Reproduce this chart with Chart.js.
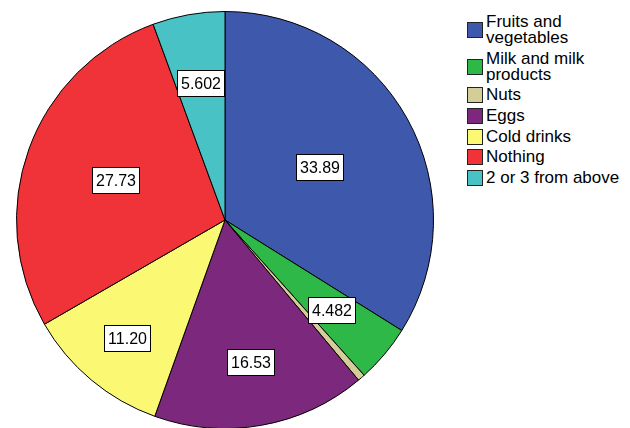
<!DOCTYPE html>
<html>
<head>
<meta charset="utf-8">
<script src="https://cdn.jsdelivr.net/npm/chart.js@4.4.1/dist/chart.umd.min.js"></script>
<style>
    html, body { margin: 0; padding: 0; background: #fff; overflow: hidden; }
    #wrap { position: relative; width: 630px; height: 428px; overflow: hidden; }
    #pie { position: absolute; left: 0; top: 0; }
    #legend {
        position: absolute; left: 467px; top: 14px;
        font-family: "Liberation Sans", Arial, sans-serif; font-size: 17px; color: #000;
    }
    .item { display: flex; align-items: center; margin-bottom: 4.7px; }
    .swatch { width: 14px; height: 14px; border: 1px solid #222; flex: none; margin-right: 3px; }
    .txt { line-height: 16px; max-width: 140px; }
</style>
</head>
<body>
<div id="wrap">
    <canvas id="pie" width="450" height="440"></canvas>
    <div id="legend"></div>
</div>
<script>
"use strict";

// categories and their percentages, clockwise from 12 o'clock
const categories = ["Fruits and vegetables", "Milk and milk products", "Nuts", "Eggs",
                    "Cold drinks", "Nothing", "2 or 3 from above"];
const percents = [33.89, 4.482, 0.566, 16.53, 11.20, 27.73, 5.602];

const slice_colours = ["#3e58ac", "#2eb848", "#d3ce97", "#7c287d", "#fbf873", "#ef3338", "#48c2c5"];
// which slices get a value box, and how far out (fraction of radius) it sits
const show_label = [true, true, false, true, true, true, true];
const label_radius = [0.52, 0.667, 0, 0.69, 0.734, 0.56, 0.667];

/*
    white boxed value labels on the slices
*/
const value_box_plugin = {
    id: "value_boxes",
    afterDatasetsDraw(chart, args, opts) {
        const ctx = chart.ctx;
        const meta = chart.getDatasetMeta(0);
        const values = chart.data.datasets[0].data;
        ctx.save();
        ctx.font = opts.font;
        ctx.textAlign = "center";
        ctx.textBaseline = "middle";
        meta.data.forEach((arc, i) => {
            if (!opts.show[i]) return;
            const p = arc.getProps(["x", "y", "startAngle", "endAngle", "outerRadius"], true);
            const mid = (p.startAngle + p.endAngle) / 2;
            const r = p.outerRadius * opts.radius[i];
            const cx = p.x + Math.cos(mid) * r;
            const cy = p.y + Math.sin(mid) * r;
            const text = values[i].toPrecision(4);
            const w = Math.round(ctx.measureText(text).width + 7);
            const h = 26;
            const left = Math.round(cx - w / 2) + 0.5;
            const top = Math.round(cy - h / 2) + 0.5;
            ctx.fillStyle = "#fff";
            ctx.fillRect(left, top, w, h);
            ctx.strokeStyle = "#000";
            ctx.lineWidth = 1;
            ctx.strokeRect(left, top, w, h);
            ctx.fillStyle = "#000";
            ctx.fillText(text, left + w / 2, top + h / 2 + 1);
        });
        ctx.restore();
    }
};

const ctx = document.getElementById("pie").getContext("2d");
window.pie_chart = new Chart(ctx, {
    type: "pie",
    data: {
        labels: categories,
        datasets: [{
            data: percents,
            backgroundColor: slice_colours,
            borderColor: "#000",
            borderWidth: 1
        }]
    },
    options: {
        responsive: false,
        devicePixelRatio: 1,
        animation: false,
        layout: { padding: { left: 16, right: 16, top: 11, bottom: 11 } },
        plugins: {
            legend: { display: false },
            tooltip: { enabled: false },
            value_boxes: {
                font: '16px "Liberation Sans", Arial, sans-serif',
                show: show_label,
                radius: label_radius
            }
        }
    },
    plugins: [value_box_plugin]
});

// legend on the right, built from the same arrays
const legend = document.getElementById("legend");
categories.forEach((name, i) => {
    const item = document.createElement("div");
    item.className = "item";
    const sw = document.createElement("span");
    sw.className = "swatch";
    sw.style.background = slice_colours[i];
    const txt = document.createElement("span");
    txt.className = "txt";
    txt.textContent = name;
    item.appendChild(sw);
    item.appendChild(txt);
    legend.appendChild(item);
});
</script>
</body>
</html>
